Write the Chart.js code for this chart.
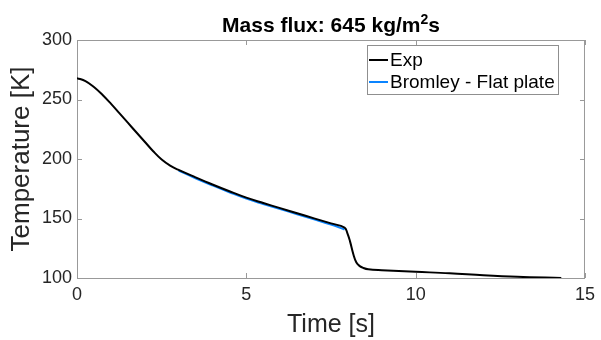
<!DOCTYPE html>
<html>
<head>
<meta charset="utf-8">
<script src="https://cdn.jsdelivr.net/npm/chart.js@4.4.0/dist/chart.umd.min.js"></script>
<style>
  html, body { margin: 0; padding: 0; background: #ffffff; }
  #wrap { width: 601px; height: 340px; }
</style>
</head>
<body>
<div id="wrap"><canvas id="tempChart" width="601" height="340"></canvas></div>
<script>
/* Temperature history, measured vs. Bromley flat-plate model */

var expTime  = [0, 0.25, 0.5, 0.75, 1.0, 1.25, 1.5, 1.75, 2.0, 2.25, 2.5, 2.75, 3.0,
                3.5, 4.0, 4.5, 5.0, 5.5, 6.0, 6.5, 7.0, 7.5, 7.9,
                7.98, 8.06, 8.16, 8.25, 8.35, 8.45, 8.6, 9.0, 10.0, 11.0, 12.0, 13.0, 14.3];
var expTemp  = [268, 265.5, 260.5, 254, 246.5, 238.5, 230.5, 222.5, 214.5, 206.5, 199.5, 194.4, 190.8,
                184.6, 178.6, 172.9, 167.5, 163, 158.7, 154.4, 150.1, 145.9, 142.4,
                138, 131, 120, 113, 110, 108.5, 107.3, 106.5, 105.2, 104, 102.3, 101, 100];

var bromTime = [3.0, 3.5, 4.0, 4.5, 5.0, 5.5, 6.0, 6.5, 7.0, 7.5, 7.9];
var bromTemp = [190.3, 183.8, 177.8, 172.1, 166.7, 162.2, 157.9, 153.6, 149.3, 144.9, 140.8];

var seriesNames = ['Exp', 'Bromley - Flat plate'];
var xTicks = [0, 5, 10, 15];
var yTicks = [100, 150, 200, 250, 300];

var AXIS_GREY = '#999999';
var TEXT_DARK = '#262626';
var FONT = '"Liberation Sans", Arial, sans-serif';

function toPoints(xs, ys) {
  return xs.map(function(x, i) { return { x: x, y: ys[i] }; });
}

/* Box outline + inward tick marks on all four sides */
var boxPlugin = {
  id: 'boxPlugin',
  afterDraw: function(chart) {
    var ctx = chart.ctx, a = chart.chartArea;
    var xs = chart.scales.x, ys = chart.scales.y;
    var len = 5;
    ctx.save();
    ctx.strokeStyle = AXIS_GREY;
    ctx.lineWidth = 1;
    ctx.beginPath();
    ctx.moveTo(a.left, a.top + 0.5);  ctx.lineTo(a.right, a.top + 0.5);
    ctx.moveTo(a.right - 0.5, a.top); ctx.lineTo(a.right - 0.5, a.bottom);
    xTicks.forEach(function(v) {
      var px = Math.round(xs.getPixelForValue(v)) + 0.5;
      ctx.moveTo(px, a.bottom); ctx.lineTo(px, a.bottom - len);
      ctx.moveTo(px, a.top);    ctx.lineTo(px, a.top + len);
    });
    yTicks.forEach(function(v) {
      var py = Math.round(ys.getPixelForValue(v)) + 0.5;
      ctx.moveTo(a.left, py);  ctx.lineTo(a.left + len, py);
      ctx.moveTo(a.right, py); ctx.lineTo(a.right - len, py);
    });
    ctx.stroke();
    ctx.restore();
  }
};

/* Title with superscript unit */
var titlePlugin = {
  id: 'titlePlugin',
  afterDraw: function(chart) {
    var ctx = chart.ctx, a = chart.chartArea;
    var main = 'Mass flux: 645 kg/m', sup = '2', tail = 's';
    ctx.save();
    ctx.fillStyle = '#000000';
    ctx.textBaseline = 'alphabetic';
    ctx.font = 'bold 21px ' + FONT;
    var w1 = ctx.measureText(main).width;
    var w3 = ctx.measureText(tail).width;
    ctx.font = 'bold 14px ' + FONT;
    var w2 = ctx.measureText(sup).width;
    var x = (a.left + a.right) / 2 - (w1 + w2 + w3) / 2;
    var base = 31.5;
    ctx.font = 'bold 21px ' + FONT;
    ctx.fillText(main, x, base);
    ctx.font = 'bold 14px ' + FONT;
    ctx.fillText(sup, x + w1, base - 8);
    ctx.font = 'bold 21px ' + FONT;
    ctx.fillText(tail, x + w1 + w2, base);
    ctx.restore();
  }
};

/* Boxed legend in the upper right of the axes */
var legendPlugin = {
  id: 'legendPlugin',
  afterDraw: function(chart) {
    var ctx = chart.ctx;
    var bx = 367.5, by = 45.5, bw = 191, bh = 49;
    ctx.save();
    ctx.fillStyle = '#ffffff';
    ctx.fillRect(bx, by, bw, bh);
    ctx.strokeStyle = '#8f8f8f';
    ctx.lineWidth = 1;
    ctx.strokeRect(bx, by, bw, bh);
    ctx.font = '19px ' + FONT;
    ctx.textBaseline = 'middle';
    ctx.fillStyle = '#000000';
    chart.data.datasets.forEach(function(ds, i) {
      var ly = 60 + i * 22;
      ctx.strokeStyle = ds.borderColor;
      ctx.lineWidth = 2;
      ctx.beginPath();
      ctx.moveTo(369, ly); ctx.lineTo(388, ly);
      ctx.stroke();
      ctx.fillText(ds.label, 390, ly + 1);
    });
    ctx.restore();
  }
};

new Chart(document.getElementById('tempChart').getContext('2d'), {
  type: 'line',
  data: {
    datasets: [{
      label: seriesNames[0],
      data: toPoints(expTime, expTemp),
      borderColor: '#000000',
      borderWidth: 2,
      pointRadius: 0,
      tension: 0.4
    }, {
      label: seriesNames[1],
      data: toPoints(bromTime, bromTemp),
      borderColor: '#0a84ff',
      borderWidth: 2,
      pointRadius: 0,
      tension: 0.4
    }]
  },
  options: {
    responsive: false,
    devicePixelRatio: 1,
    animation: false,
    layout: { padding: { top: 40, right: 10, left: 0, bottom: 0 } },
    plugins: {
      legend: { display: false },
      title: { display: false },
      tooltip: { enabled: false }
    },
    scales: {
      x: {
        type: 'linear',
        min: 0, max: 15,
        afterBuildTicks: function(s) { s.ticks = xTicks.map(function(v) { return { value: v }; }); },
        afterFit: function(s) { s.height = 62; },
        grid: { display: false, drawTicks: false },
        border: { display: true, color: AXIS_GREY, width: 1 },
        ticks: { color: TEXT_DARK, font: { family: FONT, size: 18 }, padding: 6, maxRotation: 0 },
        title: { display: true, text: 'Time [s]', color: TEXT_DARK,
                 font: { family: FONT, size: 25 }, padding: { top: 0, bottom: 0 } }
      },
      y: {
        type: 'linear',
        min: 100, max: 300,
        afterBuildTicks: function(s) { s.ticks = yTicks.map(function(v) { return { value: v }; }); },
        afterFit: function(s) { s.width = 77; },
        grid: { display: false, drawTicks: false },
        border: { display: true, color: AXIS_GREY, width: 1 },
        ticks: { color: TEXT_DARK, font: { family: FONT, size: 18 }, padding: 5 },
        title: { display: true, text: 'Temperature [K]', color: TEXT_DARK,
                 font: { family: FONT, size: 26 }, padding: { top: 6, bottom: 0 } }
      }
    }
  },
  plugins: [boxPlugin, titlePlugin, legendPlugin]
});
</script>
</body>
</html>
